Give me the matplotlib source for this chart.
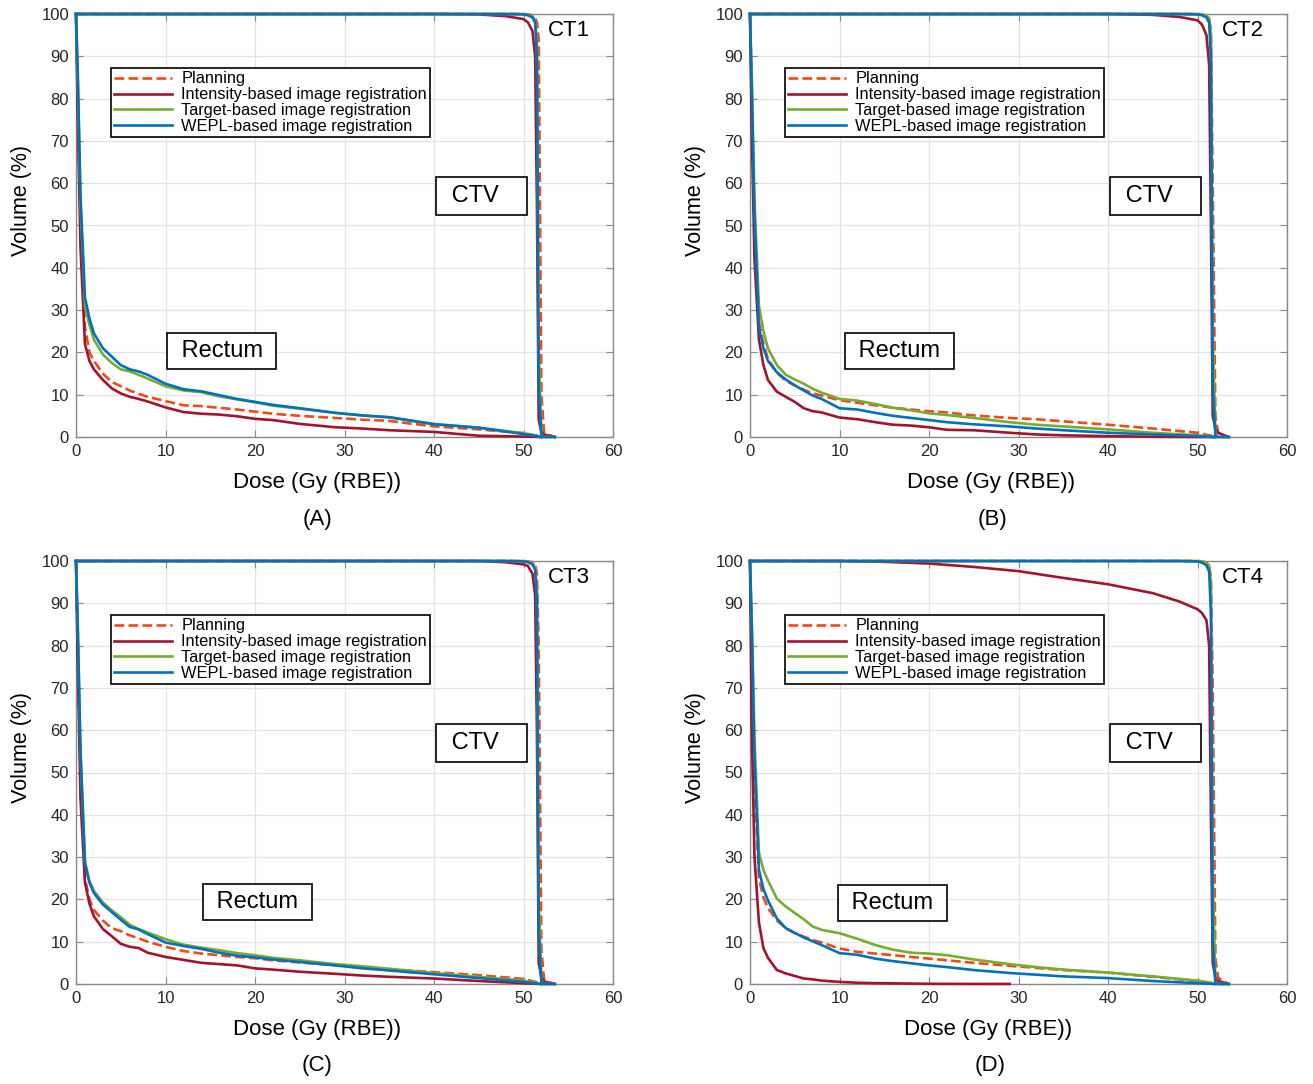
import numpy as np
import matplotlib
matplotlib.use("Agg")
import matplotlib.pyplot as plt

plt.rcParams['font.family'] = ['Liberation Sans', 'DejaVu Sans']

nan = np.nan

# legend labels
labels = ['Planning', 'Intensity-based image registration',
          'Target-based image registration', 'WEPL-based image registration']
panel_names = ['CT1', 'CT2', 'CT3', 'CT4']
panel_tags = ['(A)', '(B)', '(C)', '(D)']

# rectum DVH: dose grid (Gy (RBE)) and volume (%)
rect_dose = [0, 0.2, 0.5, 1, 1.5, 2, 3, 4, 5, 6, 7, 8, 10, 12, 14, 16, 18, 20,
             22, 25, 29, 32, 35, 40, 45, 50, 51.5, 52]

ct1_rect_plan = [100, 80, 50, 26, 20, 18, 15, 13, 12, 11, 10.2, 9.5, 8.5, 7.5, 7.3, 6.9, 6.5, 6.0,
                 5.5, 5.0, 4.5, 4.1, 3.8, 2.5, 1.8, 0.9, 0.3, 0]
ct1_rect_int = [100, 75, 45, 22, 18, 16, 13.5, 11.5, 10.3, 9.5, 9, 8.4, 7.0, 5.9, 5.5, 5.3, 4.9, 4.3,
                4.0, 3.1, 2.3, 2.0, 1.6, 1.2, 0.3, 0.1, 0.05, 0]
ct1_rect_tgt = [100, 84, 55, 31, 26.5, 23, 19.5, 17.5, 16, 15.5, 14.7, 13.8, 12, 11, 10.6, 9.6, 8.9, 8.2,
                7.4, 6.7, 5.7, 5.1, 4.6, 3.1, 2.2, 0.9, 0.3, 0]
ct1_rect_wepl = [100, 86, 57, 33, 28, 24.5, 21, 19, 17, 16, 15.5, 14.7, 12.6, 11.3, 10.8, 9.9, 9, 8.3,
                 7.6, 6.8, 5.7, 5.1, 4.7, 3.0, 2.2, 0.7, 0.2, 0]

ct2_rect_plan = [100, 80, 50, 27, 22, 18.5, 15.2, 13.3, 12.2, 11.2, 10.3, 9.8, 8.7, 8.1, 7.5, 6.9, 6.5, 6.1,
                 5.8, 5.1, 4.5, 4.2, 3.7, 2.9, 2.0, 1.0, 0.3, 0]
ct2_rect_int = [100, 72, 42, 23, 17, 13.5, 10.7, 9.5, 8.3, 6.8, 6.1, 5.8, 4.6, 4.2, 3.5, 2.9, 2.7, 2.3,
                1.7, 1.6, 1.0, 0.6, 0.4, 0.2, 0.05, 0, 0, 0]
ct2_rect_tgt = [100, 85, 56, 31, 25, 21, 17, 14.7, 13.6, 12.6, 11.4, 10.5, 9, 8.6, 7.8, 6.9, 6.3, 5.6,
                5.2, 4.5, 3.5, 2.9, 2.5, 1.8, 1.0, 0.4, 0.1, 0]
ct2_rect_wepl = [100, 82, 52, 26, 21, 18, 15.3, 13.6, 12.2, 11, 9.8, 9, 6.8, 6.5, 5.7, 5, 4.5, 4.0,
                 3.5, 3.0, 2.5, 2.0, 1.6, 1.0, 0.6, 0.2, 0.05, 0]

ct3_rect_plan = [100, 80, 50, 25, 20, 17.5, 15, 13.2, 12.5, 11.5, 10.8, 10, 8.8, 7.8, 7.2, 6.8, 6.4, 6.1,
                 5.6, 5.1, 4.4, 3.9, 3.5, 2.8, 2.1, 1.2, 0.4, 0]
ct3_rect_int = [100, 75, 44, 24, 19, 16, 13, 11.3, 9.5, 8.8, 8.5, 7.4, 6.4, 5.7, 5.0, 4.7, 4.4, 3.7,
                3.4, 2.9, 2.4, 2.0, 1.7, 1.3, 0.7, 0.2, 0.05, 0]
ct3_rect_tgt = [100, 84, 55, 29, 24.3, 22, 19.3, 17.4, 15.8, 14, 13, 12.2, 10.6, 9.3, 8.6, 8.0, 7.3, 6.8,
                6.2, 5.6, 4.7, 4.2, 3.6, 2.6, 1.7, 0.8, 0.2, 0]
ct3_rect_wepl = [100, 84, 55, 28.5, 24, 21.5, 18.8, 17, 15.2, 13.5, 12.9, 11.8, 9.8, 9.0, 8.3, 7.4, 6.7, 6.3,
                 5.8, 5.2, 4.4, 3.7, 3.2, 2.3, 1.4, 0.5, 0.1, 0]

ct4_rect_plan = [100, 80, 48, 25, 20.5, 18, 15, 13.2, 12, 11.2, 10.4, 9.8, 8.4, 7.6, 7.2, 6.8, 6.4, 6.0,
                 5.6, 5.0, 4.3, 3.8, 3.3, 2.7, 1.7, 0.7, 0.2, 0]
ct4_rect_int = [100, 60, 30, 14.5, 8.5, 6.2, 3.3, 2.5, 1.9, 1.3, 1.1, 0.8, 0.5, 0.3, 0.2, 0.15, 0.1, 0.05,
                0.03, 0.02, 0.01, nan, nan, nan, nan, nan, nan, nan]
ct4_rect_tgt = [100, 86, 58, 31, 27, 24.5, 20.2, 18.3, 16.8, 15.3, 13.6, 12.8, 12, 10.7, 9.2, 8.1, 7.4, 7.2,
                6.8, 5.8, 4.7, 4.0, 3.4, 2.7, 1.8, 0.8, 0.3, 0]
ct4_rect_wepl = [100, 84, 54, 27, 22.5, 19.8, 15.5, 13.2, 12.1, 11, 10.1, 9.2, 7.3, 6.9, 6.0, 5.4, 4.9, 4.4,
                 4.0, 3.3, 2.6, 2.2, 1.8, 1.4, 0.7, 0.2, 0.05, 0]

# CTV DVH
ctv_dose = [0, 10, 15, 20, 25, 30, 35, 40, 45, 48, 50, 50.5, 51, 51.3, 51.5, 51.7, 52.0, 52.3, 53, 53.5]

ct1_ctv_plan = [100, 100, 100, 100, 100, 100, 100, 100, 100, 100, 100, 99.9, 99.7, 99.3, 98, 94, 10, 1.0, 0.4, 0]
ct1_ctv_int = [100, 100, 100, 100, 100, 100, 100, 100, 99.9, 99.5, 98.8, 98, 96, 90, 55, 4, 1.2, 0.6, 0.2, 0]
ct1_ctv_tgt = [100, 100, 100, 100, 100, 100, 100, 100, 100, 100, 100, 99.8, 99.5, 98.5, 93, 20, 0.5, 0, 0, 0]
ct1_ctv_wepl = [100, 100, 100, 100, 100, 100, 100, 100, 100, 100, 99.9, 99.7, 99.2, 98, 90, 12, 0.3, 0, 0, 0]

ct2_ctv_plan = [100, 100, 100, 100, 100, 100, 100, 100, 100, 100, 100, 99.9, 99.6, 99, 96, 60, 5, 1.0, 0.3, 0]
ct2_ctv_int = [100, 100, 100, 100, 100, 100, 100, 100, 99.8, 99.3, 98.5, 97.5, 95, 88, 50, 5, 2, 1, 0.4, 0]
ct2_ctv_tgt = [100, 100, 100, 100, 100, 100, 100, 100, 100, 100, 100, 99.9, 99.6, 99, 95, 25, 0.5, 0, 0, 0]
ct2_ctv_wepl = [100, 100, 100, 100, 100, 100, 100, 100, 100, 100, 99.9, 99.7, 99.2, 98, 90, 12, 0.3, 0, 0, 0]

ct3_ctv_plan = [100, 100, 100, 100, 100, 100, 100, 100, 100, 100, 100, 99.9, 99.7, 99.2, 97, 80, 8, 1.0, 0.3, 0]
ct3_ctv_int = [100, 100, 100, 100, 100, 100, 100, 100, 100, 99.7, 99.2, 98.8, 97, 92, 60, 5, 1.5, 0.6, 0.2, 0]
ct3_ctv_tgt = [100, 100, 100, 100, 100, 100, 100, 100, 100, 100, 100, 99.8, 99.5, 98.5, 93, 20, 0.5, 0, 0, 0]
ct3_ctv_wepl = [100, 100, 100, 100, 100, 100, 100, 100, 100, 100, 99.9, 99.7, 99.2, 98, 90, 12, 0.3, 0, 0, 0]

ct4_ctv_plan = [100, 100, 100, 100, 100, 100, 100, 100, 100, 100, 100, 99.9, 99.6, 99, 96, 70, 6, 1.5, 0.5, 0]
ct4_ctv_int = [100, 100, 99.8, 99.4, 98.6, 97.6, 96, 94.5, 92.4, 90.4, 88.6, 87.7, 86, 80, 40, 5, 1.5, 0.7, 0.3, 0]
ct4_ctv_tgt = [100, 100, 100, 100, 100, 100, 100, 100, 100, 100, 100, 99.9, 99.6, 99, 95, 25, 0.5, 0, 0, 0]
ct4_ctv_wepl = [100, 100, 100, 100, 100, 100, 100, 100, 100, 100, 99.9, 99.6, 99, 97.5, 88, 10, 0.3, 0, 0, 0]

rect_sets = [
    [ct1_rect_plan, ct1_rect_int, ct1_rect_tgt, ct1_rect_wepl],
    [ct2_rect_plan, ct2_rect_int, ct2_rect_tgt, ct2_rect_wepl],
    [ct3_rect_plan, ct3_rect_int, ct3_rect_tgt, ct3_rect_wepl],
    [ct4_rect_plan, ct4_rect_int, ct4_rect_tgt, ct4_rect_wepl],
]
ctv_sets = [
    [ct1_ctv_plan, ct1_ctv_int, ct1_ctv_tgt, ct1_ctv_wepl],
    [ct2_ctv_plan, ct2_ctv_int, ct2_ctv_tgt, ct2_ctv_wepl],
    [ct3_ctv_plan, ct3_ctv_int, ct3_ctv_tgt, ct3_ctv_wepl],
    [ct4_ctv_plan, ct4_ctv_int, ct4_ctv_tgt, ct4_ctv_wepl],
]
# position of the "Rectum" label (dose, volume) per panel
rectum_pos = [(16.3, 20.3), (16.7, 20.3), (20.3, 19.4), (15.9, 19.2)]

colors = ['#EE4A1A', '#A2142F', '#77AC30', '#0072BD']
styles = ['--', '-', '-', '-']

W, H = 1313, 1084
fig = plt.figure(figsize=(W / 100, H / 100), dpi=100)

lefts = [76, 750, 76, 750]
tops = [14, 14, 561, 561]
tag_xy = [(317, 520), (993, 520), (317, 1066), (990, 1066)]
xlab_x = [317, 991, 317, 988]

for i in range(4):
    l, t = lefts[i], tops[i]
    ax = fig.add_axes([l / W, 1 - (t + 423) / H, 537 / W, 423 / H])
    handles = []
    for k in range(4):
        h, = ax.plot(rect_dose, rect_sets[i][k], ls=styles[k], color=colors[k], lw=1.9,
                     clip_on=False, zorder=3 + k, label=labels[k])
        ax.plot(ctv_dose, ctv_sets[i][k], ls=styles[k], color=colors[k], lw=1.9,
                clip_on=False, zorder=3 + k)
        handles.append(h)

    ax.set_xlim(0, 60)
    ax.set_ylim(0, 100)
    ax.set_xticks(np.arange(0, 61, 10))
    ax.set_yticks(np.arange(0, 101, 10))
    ax.grid(True, color='#e3e3e3', lw=0.9)
    ax.set_axisbelow(True)
    ax.tick_params(direction='in', top=True, right=True, length=5, width=0.8,
                   color='#8a8a8a', labelsize=12, labelcolor='#262626', pad=5)
    for s in ax.spines.values():
        s.set_color('#8a8a8a')
        s.set_linewidth(1.0)

    ax.set_xlabel('Dose (Gy (RBE))', fontsize=16)
    ax.xaxis.set_label_coords((xlab_x[i] - l) / 537, -0.082)
    ax.set_ylabel('Volume (%)', fontsize=15.5)
    ax.yaxis.set_label_coords(-0.082, 0.558)

    leg = ax.legend(handles=handles, loc='upper left', bbox_to_anchor=(0.065, 0.872),
                    fontsize=11.8, handlelength=3.5, handletextpad=0.6, labelspacing=0.05,
                    borderpad=0.2, borderaxespad=0, fancybox=False, framealpha=1)
    leg.get_frame().set_edgecolor('black')
    leg.get_frame().set_linewidth(1.2)

    ax.text(0.879, 0.962, panel_names[i], transform=ax.transAxes, fontsize=16,
            ha='left', va='center')
    ax.text(45.3, 57, ' CTV   ', fontsize=17, ha='center', va='center', zorder=10,
            bbox=dict(boxstyle='square,pad=0.35', fc='white', ec='black', lw=1.2))
    rx, ry = rectum_pos[i]
    ax.text(rx, ry, ' Rectum ', fontsize=17, ha='center', va='center', zorder=10,
            bbox=dict(boxstyle='square,pad=0.3', fc='white', ec='black', lw=1.2))

    tx, ty = tag_xy[i]
    fig.text(tx / W, 1 - ty / H, panel_tags[i], fontsize=16, ha='center', va='center')

fig.savefig('out.png', dpi=100)
